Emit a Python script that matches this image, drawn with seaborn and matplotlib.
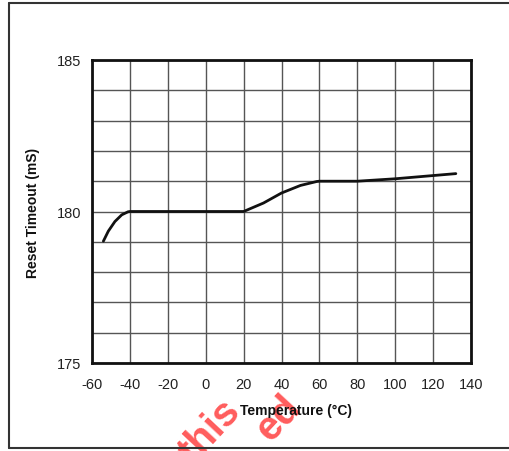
import matplotlib
matplotlib.use("Agg")
import matplotlib.pyplot as plt
from matplotlib.lines import Line2D
import seaborn as sns
import pandas as pd

# Data
temperature = [-54, -51.4, -47.9, -44.3, -41, -40, 0, 20, 30.5, 40, 50, 58.6, 60, 80, 100, 132]
reset_timeout = [179.02, 179.35, 179.67, 179.89, 179.99, 180.0, 180.0, 180.0, 180.28, 180.61, 180.86, 180.99, 181.0, 181.0, 181.08, 181.25]
x_ticks = [-60, -40, -20, 0, 20, 40, 60, 80, 100, 120, 140]
y_ticks = [175, 180, 185]
y_grid = list(range(175, 186))

sns.set_style("white")
plt.rcParams['font.family'] = ['Liberation Sans', 'DejaVu Sans']
plt.rcParams['axes.unicode_minus'] = False

W, H = 509, 452
fig = plt.figure(figsize=(W / 100, H / 100), dpi=100)
ax = fig.add_axes([92/W, 1-364/H, (471-92)/W, (364-61)/H])

df = pd.DataFrame({"Temperature": temperature, "Timeout": reset_timeout})
sns.lineplot(data=df, x="Temperature", y="Timeout", ax=ax, color="#111111",
             linewidth=2.0, sort=False, estimator=None)

ax.set_xlim(-60, 140)
ax.set_ylim(175, 185)
ax.set_xticks(x_ticks)
ax.set_yticks(y_grid)
ax.set_yticklabels([str(v) if v in y_ticks else "" for v in y_grid])
ax.grid(True, color="#555555", linewidth=1.0)
ax.set_axisbelow(True)
for s in ax.spines.values():
    s.set_visible(True)
    s.set_color("#111111")
    s.set_linewidth(2.0)
ax.tick_params(axis="both", length=0, labelsize=10.5, colors="#222222")
ax.tick_params(axis="x", pad=10)
ax.tick_params(axis="y", pad=8)
ax.set_xlabel("")
ax.set_ylabel("")

# watermark fragments (drawn first, below the labels)
wm_color = "#ff4040"
fig.text(193/W, 1-465/H, "this", ha="left", va="baseline", rotation=47,
         rotation_mode="anchor", fontsize=29, fontweight="bold",
         color=wm_color, alpha=0.85, zorder=0)
fig.text(270/W, 1-443/H, "ed", ha="left", va="baseline", rotation=47,
         rotation_mode="anchor", fontsize=29, fontweight="bold",
         color=wm_color, alpha=0.85, zorder=0)

fig.text(296/W, 1-411/H, "Temperature (°C)", ha="center", va="center",
         fontsize=10, fontweight="bold", color="#111111", zorder=5)
fig.text(33/W, 1-213/H, "Reset Timeout (mS)", ha="center", va="center",
         rotation=90, fontsize=10, fontweight="bold", color="#111111", zorder=5)

# outer frame (left, top, bottom)
fc = "#333333"
fig.add_artist(Line2D([9/W, 9/W], [1-4/H, 1-449/H], transform=fig.transFigure, color=fc, lw=1.5))
fig.add_artist(Line2D([9/W, 1.0], [1-4/H, 1-4/H], transform=fig.transFigure, color=fc, lw=1.5))
fig.add_artist(Line2D([9/W, 1.0], [1-449/H, 1-449/H], transform=fig.transFigure, color=fc, lw=1.5))

fig.savefig("out.png", dpi=100)
